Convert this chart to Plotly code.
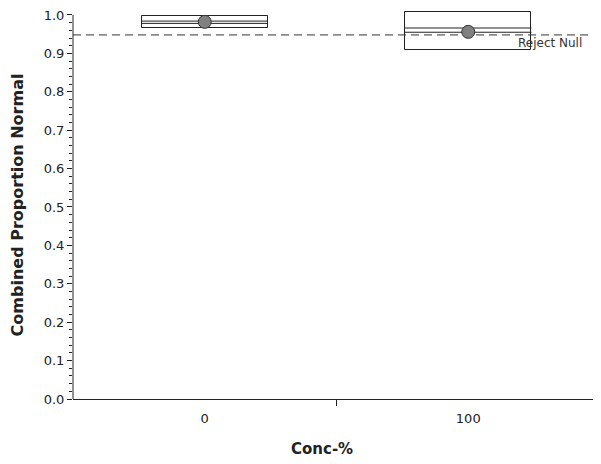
import plotly.graph_objects as go

# Data
categories = ["0", "100"]
box_low = [0.966, 0.910]
box_high = [0.997, 1.009]
line_upper = [0.984, 0.966]
line_lower = [0.978, 0.955]
means = [0.982, 0.956]
reject_null = 0.948
y_ticks = [0.0, 0.1, 0.2, 0.3, 0.4, 0.5, 0.6, 0.7, 0.8, 0.9, 1.0]

pos = list(range(len(categories)))
half = 0.24
FONT = "DejaVu Sans"

fig = go.Figure()

# Boxes
fig.add_trace(go.Bar(
    x=pos, y=[h - l for h, l in zip(box_high, box_low)], base=box_low,
    width=2 * half, marker=dict(color="white", line=dict(color="#222", width=1)),
    showlegend=False, hoverinfo="skip", cliponaxis=False))

# Inner lines
for i, p in enumerate(pos):
    for v in (line_upper[i], line_lower[i]):
        fig.add_trace(go.Scatter(
            x=[p - half, p + half], y=[v, v], mode="lines",
            line=dict(color="#222", width=1), showlegend=False, hoverinfo="skip"))

# Reject Null reference line
fig.add_trace(go.Scatter(
    x=[-0.5, 1.5], y=[reject_null, reject_null], mode="lines",
    line=dict(color="#333", width=1, dash="8px,5px"), showlegend=False, hoverinfo="skip"))

# Mean dots
fig.add_trace(go.Scatter(
    x=pos, y=means, mode="markers",
    marker=dict(size=13, color="#808080", line=dict(color="#333", width=1)),
    showlegend=False, cliponaxis=False))

fig.add_annotation(x=1.5, y=reject_null, xref="x", yref="y", text="Reject Null",
                   showarrow=False, xanchor="right", yanchor="top", xshift=-16, yshift=1,
                   font=dict(family=FONT, size=12, color="#333"))

# x-axis title (slightly left of centre, as in the reference)
fig.add_annotation(x=0.4725, y=0, xref="paper", yref="paper", text="<b>Conc-%</b>",
                   showarrow=False, xanchor="center", yanchor="top", yshift=-39,
                   font=dict(family=FONT, size=15, color="#222"))

# y axis line only up to 1.0
fig.add_shape(type="line", xref="paper", yref="y", x0=0, x1=0, y0=0, y1=1.0,
              line=dict(color="#222", width=1))

# The page body adds an 8px offset, so the figure is sized to compensate
fig.update_layout(
    width=593, height=456,
    margin=dict(l=65, r=1, t=3, b=65),
    paper_bgcolor="white", plot_bgcolor="white",
    font=dict(family=FONT, size=13, color="#222"),
    bargap=0,
    xaxis=dict(
        range=[-0.5, 1.5], tickmode="array", tickvals=pos, ticktext=categories,
        ticks="", showgrid=False, zeroline=False, automargin=False,
        showline=True, linecolor="#222", linewidth=1, ticklabelstandoff=7,
        minor=dict(tickmode="array", tickvals=[0.5, 1.5], ticks="outside",
                   ticklen=6, tickcolor="#222", showgrid=False),
        tickfont=dict(family=FONT, size=13, color="#222"),
    ),
    yaxis=dict(
        range=[0, 1.0103], tickmode="array", tickvals=y_ticks,
        ticktext=[f"{v:.1f}" for v in y_ticks], ticklabeloverflow="allow",
        ticks="outside", ticklen=5, tickcolor="#222", automargin=False,
        showgrid=False, zeroline=False, showline=False,
        minor=dict(tickmode="linear", tick0=0, dtick=0.02, ticks="outside",
                   ticklen=3, tickcolor="#222", showgrid=False),
        title=dict(text="<b>Combined Proportion Normal</b>", font=dict(family=FONT, size=16, color="#222"), standoff=20),
        tickfont=dict(family=FONT, size=13, color="#222"),
    ),
)

fig.write_html("out.html")
